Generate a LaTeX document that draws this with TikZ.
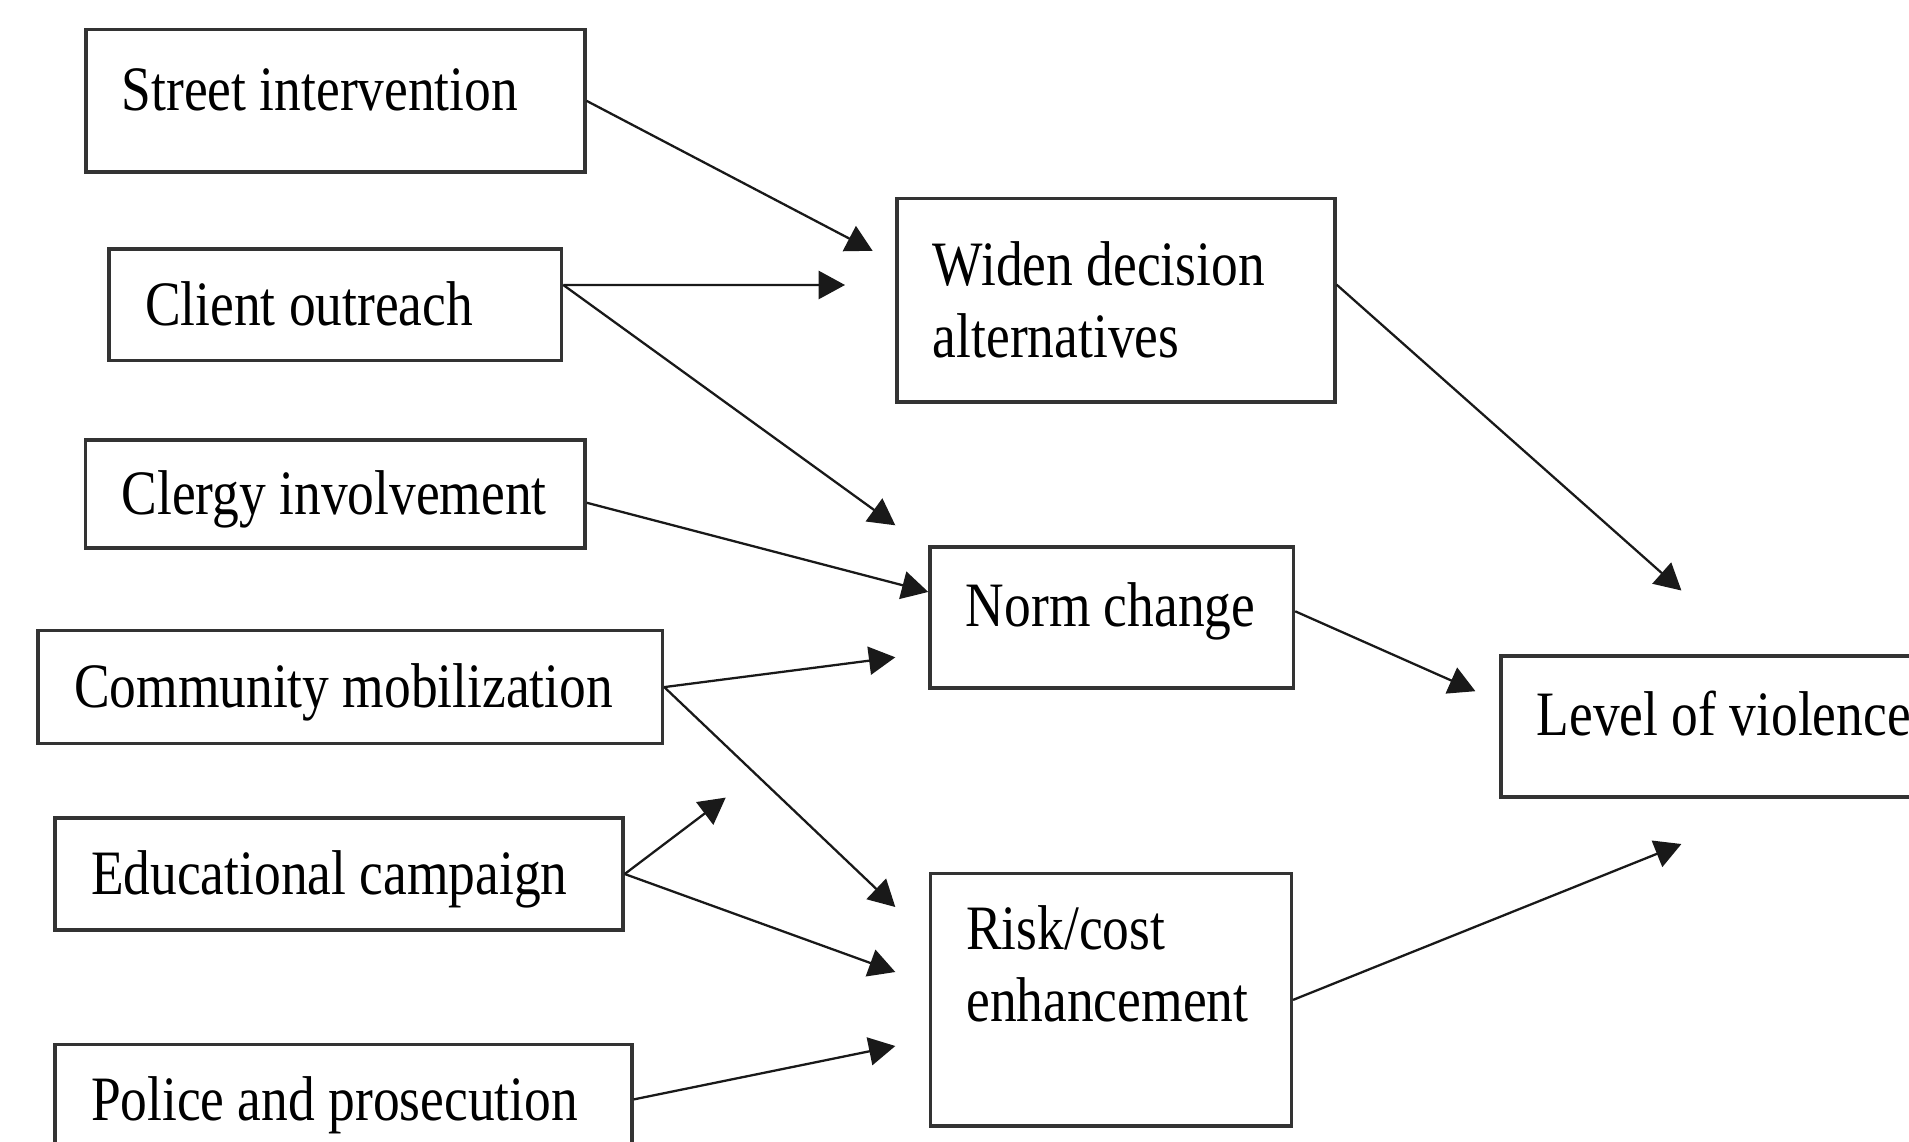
\documentclass[tikz,border=0pt]{standalone}
\usepackage{fontspec}
\setmainfont{Liberation Serif}[FakeStretch=0.845]
\usetikzlibrary{arrows.meta}

\begin{document}
\begin{tikzpicture}[x=0.02cm,y=-0.02cm,
  box node/.style={draw=black!80,line width=2pt,inner xsep=0.72cm,inner ysep=0pt,align=flush left,font=\fontsize{36}{41}\selectfont},
  one line/.style={text height=24.5pt,text depth=1pt},
  high line/.style={text height=24.5pt,text depth=14pt},
  arr/.style={-{Triangle[length=15pt,width=16pt]},line width=1.3pt,black!90}]

\useasboundingbox (0,0) rectangle (1909,1142);

\node[box node,high line,text width=8.54cm,minimum height=2.85cm] (street) at (335.3,100.8) {Street intervention};
\node[box node,one line,text width=7.61cm,minimum height=2.23cm] (client) at (335.3,304.9) {Client outreach};
\node[box node,one line,text width=8.55cm,minimum height=2.16cm] (clergy) at (335.4,494) {Clergy involvement};
\node[box node,one line,text width=11.05cm,minimum height=2.26cm] (community) at (350.3,687.1) {Community mobilization};
\node[box node,one line,text width=9.92cm,minimum height=2.24cm] (educational) at (339,874) {Educational campaign};
\node[box node,one line,text width=10.1cm,minimum height=2.2cm] (police) at (343.5,1099.4) {Police and prosecution};

\node[box node,text width=7.32cm,minimum height=4.07cm] (widen) at (1115.9,300.1) {Widen decision\\alternatives};
\node[box node,high line,text width=5.83cm,minimum height=2.82cm] (norm) at (1111.7,617.7) {Norm change};
\node[box node,text width=5.78cm,minimum height=5.05cm] (risk) at (1110.8,999.9) {Risk/cost\\enhancement\\\mbox{}};
\node[box node,high line,text width=7.76cm,minimum height=2.82cm] (level) at (1730.8,726.3) {Level of violence};

\coordinate (t1) at (872.6,250.8);
\coordinate (t2) at (845,285);
\coordinate (t3) at (895.3,525.3);
\coordinate (t5) at (895.3,657.3);
\coordinate (t6) at (895.3,907);
\coordinate (t7) at (725.7,797.6);
\coordinate (t8) at (895.3,972);
\coordinate (t9) at (895.3,1046);
\coordinate (t10) at (1681.4,590.5);
\coordinate (t11) at (1475.4,691.2);
\coordinate (t12) at (1681.4,844);

\path [arr] (street.east) edge (t1)
(client.5) edge (t2)
(client.5) edge (t3)
(clergy.-2) edge (norm.172)
(community.east) edge (t5)
(community.east) edge (t6)
(educational.east) edge (t7)
(educational.east) edge (t8)
(police.east) edge (t9)
(widen.4) edge (t10)
(norm.2) edge (t11)
(risk.east) edge (t12);

\end{tikzpicture}
\end{document}
